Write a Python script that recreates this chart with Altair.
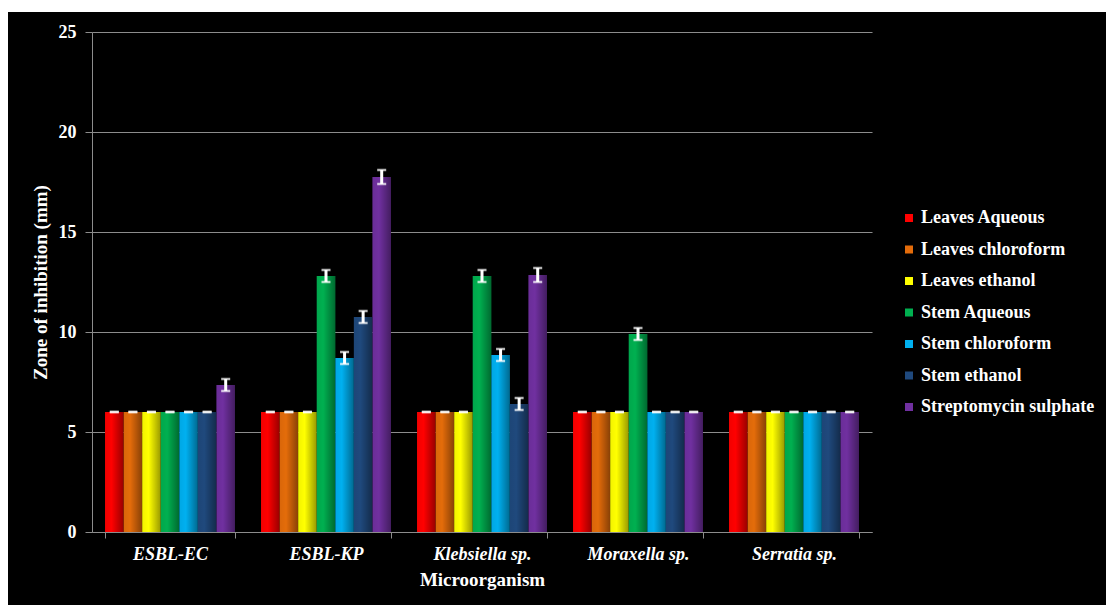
import altair as alt
import pandas as pd

categories = ["ESBL-EC", "ESBL-KP", "Klebsiella sp.", "Moraxella sp.", "Serratia sp."]
series = ["Leaves Aqueous", "Leaves chloroform", "Leaves ethanol", "Stem Aqueous",
          "Stem chloroform", "Stem ethanol", "Streptomycin sulphate"]
colors = ["#FF0000", "#E46C0A", "#FFFF00", "#00B050", "#00B0F0", "#1F497D", "#7030A0"]

leaves_aqueous = [6, 6, 6, 6, 6]
leaves_chloroform = [6, 6, 6, 6, 6]
leaves_ethanol = [6, 6, 6, 6, 6]
stem_aqueous = [6, 12.8, 12.8, 9.9, 6]
stem_chloroform = [6, 8.7, 8.85, 6, 6]
stem_ethanol = [6, 10.75, 6.4, 6, 6]
streptomycin = [7.35, 17.75, 12.85, 6, 6]

err_leaves_aqueous = [0, 0, 0, 0, 0]
err_leaves_chloroform = [0, 0, 0, 0, 0]
err_leaves_ethanol = [0, 0, 0, 0, 0]
err_stem_aqueous = [0, 0.3, 0.3, 0.3, 0]
err_stem_chloroform = [0, 0.3, 0.3, 0, 0]
err_stem_ethanol = [0, 0.3, 0.3, 0, 0]
err_streptomycin = [0.3, 0.35, 0.35, 0, 0]

vals = [leaves_aqueous, leaves_chloroform, leaves_ethanol, stem_aqueous,
        stem_chloroform, stem_ethanol, streptomycin]
errs = [err_leaves_aqueous, err_leaves_chloroform, err_leaves_ethanol, err_stem_aqueous,
        err_stem_chloroform, err_stem_ethanol, err_streptomycin]

rows = []
for s, v, e in zip(series, vals, errs):
    for c, vv, ee in zip(categories, v, e):
        rows.append({"Microorganism": c, "Series": s, "value": vv, "err": ee})
df = pd.DataFrame(rows)

FONT = "Liberation Serif"

x = alt.X("Microorganism:N", sort=categories,
          scale=alt.Scale(paddingInner=0.167, paddingOuter=0.0835),
          axis=alt.Axis(title="Microorganism", labelAngle=0, tickBand="extent",
                        labelFontStyle="italic", labelFontSize=18, labelPadding=7,
                        tickSize=6, titlePadding=7, titleFontSize=19))
xo = alt.XOffset("Series:N", sort=series, scale=alt.Scale(paddingInner=0, paddingOuter=0))
yscale = alt.Scale(domain=[0, 25], nice=False)
y = alt.Y("value:Q", scale=yscale,
          axis=alt.Axis(title="Zone of inhibition (mm)", values=[0, 5, 10, 15, 20, 25],
                        grid=True, tickSize=7, labelPadding=9, labelFontSize=18,
                        titleFontSize=19, titlePadding=8))

base = alt.Chart(df)

frame = pd.DataFrame({"a": [0]})
white_top = alt.Chart(frame).mark_rect(color="white").encode(
    x=alt.value(-92), x2=alt.value(1014), y=alt.value(-32), y2=alt.value(-20))
white_left = alt.Chart(frame).mark_rect(color="white").encode(
    x=alt.value(-92), x2=alt.value(-84), y=alt.value(-32), y2=alt.value(573))

bars = base.mark_bar().encode(
    x=x, xOffset=xo, y=y,
    color=alt.Color("Series:N", sort=series,
                    scale=alt.Scale(domain=series, range=colors),
                    legend=alt.Legend(title=None, orient="none", legendX=808, legendY=177,
                                      symbolType="square", symbolSize=64,
                                      symbolStrokeWidth=0, labelFontSize=18,
                                      labelColor="white", labelFont=FONT,
                                      labelFontWeight="bold", rowPadding=13.5,
                                      labelOffset=3, labelLimit=300)))

shade = base.mark_bar(color=alt.Gradient(
    gradient="linear", x1=0, x2=1, y1=0, y2=0,
    stops=[alt.GradientStop(offset=0, color="rgba(0,0,0,0.05)"),
           alt.GradientStop(offset=0.35, color="rgba(0,0,0,0)"),
           alt.GradientStop(offset=1, color="rgba(0,0,0,0.4)")])).encode(
    x=x, xOffset=xo, y=y)

err = base.transform_calculate(lo="datum.value - datum.err", hi="datum.value + datum.err")

rules = err.mark_rule(color="white", strokeWidth=3).encode(
    x=x, xOffset=xo, y=alt.Y("lo:Q", scale=yscale), y2="hi:Q")
ticks_lo = err.mark_tick(color="white", thickness=2.5, size=9).encode(
    x=x, xOffset=xo, y=alt.Y("lo:Q", scale=yscale))
ticks_hi = err.mark_tick(color="white", thickness=2.5, size=9).encode(
    x=x, xOffset=xo, y=alt.Y("hi:Q", scale=yscale))

chart = alt.layer(white_top, white_left, bars, shade, rules, ticks_lo, ticks_hi).properties(
    width=780, height=500, background="black",
    padding={"left": 92, "top": 32, "right": 234, "bottom": 73},
    autosize=alt.AutoSizeParams(type="none"),
).configure_view(stroke=None).configure_axis(
    labelColor="white", titleColor="white", labelFont=FONT, titleFont=FONT,
    labelFontWeight="bold", titleFontWeight="bold",
    domainColor="#8c8c8c", tickColor="#8c8c8c", gridColor="#8c8c8c", gridWidth=1,
)

chart.save("out.html", embed_options={"renderer": "svg", "actions": False})
